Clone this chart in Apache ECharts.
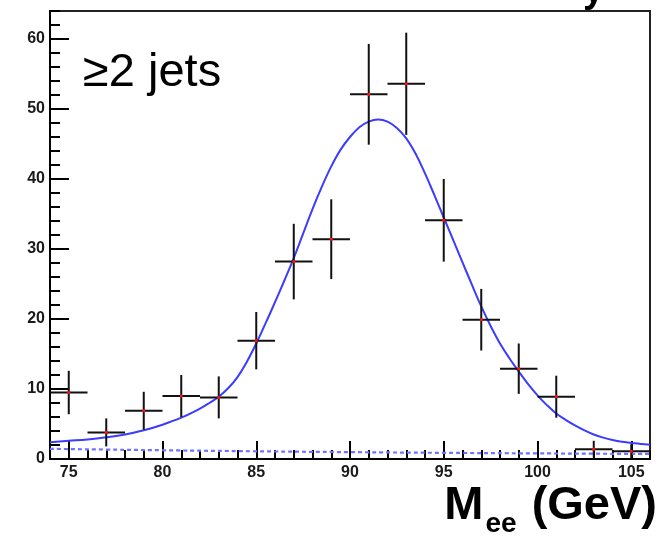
<!DOCTYPE html>
<html>
<head>
<meta charset="utf-8">
<script src="https://cdn.jsdelivr.net/npm/echarts@6/dist/echarts.min.js"></script>
<style>html,body{margin:0;padding:0;background:#fff;}#c{width:664px;height:541px;}</style>
</head>
<body>
<div id="c"></div>
<script>
// ---- data ----
var binCenters = [75, 77, 79, 81, 83, 85, 87, 89, 91, 93, 95, 97, 99, 101, 103, 105];
var counts     = [9.5, 3.8, 6.9, 9.0, 8.8, 16.9, 28.2, 31.4, 52.1, 53.6, 34.1, 19.9, 12.9, 8.9, 1.4, 1.1];
var countErr   = [3.1, 2.0, 2.7, 3.0, 3.0, 4.1, 5.4, 5.7, 7.2, 7.3, 5.9, 4.4, 3.6, 3.0, 1.2, 1.0];
var binHalfWidth = [1, 1, 1, 1, 1, 1, 1, 1, 1, 1, 1, 1, 1, 1, 1, 1];

var fitX = [74, 75, 76, 77, 78, 79, 80, 81, 82, 82.5, 83, 83.5, 84, 84.5, 85, 85.5, 86, 86.5, 87, 87.5, 88, 88.5, 89, 89.5, 90, 90.5, 91, 91.5, 92, 92.5, 93, 93.5, 94, 94.5, 95, 95.5, 96, 96.5, 97, 97.5, 98, 98.5, 99, 99.5, 100, 100.5, 101, 101.5, 102, 102.5, 103, 103.5, 104, 104.5, 105, 105.5, 106];
var fitY = [2.4, 2.6, 2.8, 3.1, 3.5, 4.1, 4.9, 5.9, 7.2, 8.0, 8.9, 10.1, 11.7, 13.9, 16.5, 19.4, 22.4, 25.5, 28.7, 32.2, 35.7, 38.9, 41.8, 44.2, 46.0, 47.4, 48.2, 48.5, 48.2, 47.3, 45.8, 43.6, 40.8, 37.7, 34.5, 31.3, 28.1, 24.9, 21.8, 19.0, 16.5, 14.4, 12.5, 10.7, 9.1, 7.7, 6.5, 5.6, 4.8, 4.1, 3.5, 3.05, 2.7, 2.45, 2.3, 2.15, 2.05];

var bgX = [74, 77, 80, 85, 90, 95, 100, 103, 106];
var bgY = [1.45, 1.35, 1.25, 1.1, 0.98, 0.88, 0.8, 0.76, 0.72];

var xMajorTicks = [75, 80, 85, 90, 95, 100, 105];
var xMinorTicks = [74, 75, 76, 77, 78, 79, 80, 81, 82, 83, 84, 85, 86, 87, 88, 89, 90, 91, 92, 93, 94, 95, 96, 97, 98, 99, 100, 101, 102, 103, 104, 105, 106];
var yMajorTicks = [0, 10, 20, 30, 40, 50, 60];
var yMinorTicks = [0, 2, 4, 6, 8, 10, 12, 14, 16, 18, 20, 22, 24, 26, 28, 30, 32, 34, 36, 38, 40, 42, 44, 46, 48, 50, 52, 54, 56, 58, 60, 62, 64];

var titleText = '\u22652 jets';

// ---- build ----
var pointData = binCenters.map(function (x, i) { return [x, counts[i], binHalfWidth[i], countErr[i]]; });
var fitData = fitX.map(function (x, i) { return [x, fitY[i]]; });
var bgData = bgX.map(function (x, i) { return [x, bgY[i]]; });

var chart = echarts.init(document.getElementById('c'), null, {renderer: 'canvas'});
var labelFont = {fontFamily: 'Liberation Sans, Arial, sans-serif', fontWeight: 'bold', fontSize: 16, color: '#1a1a1a'};

function xAxisBase(extra) {
  return Object.assign({
    type: 'value', min: 74, max: 106, gridIndex: 0, position: 'bottom',
    splitLine: {show: false}
  }, extra);
}
function yAxisBase(extra) {
  return Object.assign({
    type: 'value', min: 0, max: 64, gridIndex: 0, position: 'left',
    splitLine: {show: false}
  }, extra);
}

chart.setOption({
  animation: false,
  backgroundColor: '#fff',
  grid: {left: 50, top: 11, right: 14, bottom: 82, show: true, borderColor: '#222', borderWidth: 2, backgroundColor: 'transparent'},
  xAxis: [
    xAxisBase({
      axisLine: {show: true, onZero: false, lineStyle: {color: '#000', width: 2}},
      axisTick: {show: true, inside: true, length: 18, customValues: xMajorTicks, lineStyle: {color: '#000', width: 2}},
      axisLabel: Object.assign({customValues: xMajorTicks, margin: 6}, labelFont)
    }),
    xAxisBase({
      axisLine: {show: false},
      axisTick: {show: true, inside: true, length: 9, customValues: xMinorTicks, lineStyle: {color: '#000', width: 2}},
      axisLabel: {show: false}
    })
  ],
  yAxis: [
    yAxisBase({
      axisLine: {show: true, onZero: false, lineStyle: {color: '#000', width: 2}},
      axisTick: {show: true, inside: true, length: 19, customValues: yMajorTicks, lineStyle: {color: '#000', width: 2}},
      axisLabel: Object.assign({customValues: yMajorTicks, margin: 5}, labelFont)
    }),
    yAxisBase({
      axisLine: {show: false},
      axisTick: {show: true, inside: true, length: 10, customValues: yMinorTicks, lineStyle: {color: '#000', width: 2}},
      axisLabel: {show: false}
    })
  ],
  series: [
    {
      type: 'line', data: bgData, xAxisIndex: 0, yAxisIndex: 0, showSymbol: false, smooth: true,
      lineStyle: {color: '#7272ff', width: 2.2, type: [4, 3]}, z: 2
    },
    {
      type: 'line', data: fitData, xAxisIndex: 0, yAxisIndex: 0, showSymbol: false, smooth: 0.4,
      lineStyle: {color: '#3c3cff', width: 2}, z: 3
    },
    {
      type: 'custom', xAxisIndex: 0, yAxisIndex: 0, data: pointData, z: 4,
      renderItem: function (params, api) {
        var x = api.value(0), y = api.value(1), ex = api.value(2), ey = api.value(3);
        var c = api.coord([x, y]);
        var l = api.coord([x - ex, y]);
        var r = api.coord([x + ex, y]);
        var t = api.coord([x, y + ey]);
        var b = api.coord([x, Math.max(0, y - ey)]);
        var ls = {stroke: '#111', lineWidth: 2};
        return {
          type: 'group',
          children: [
            {type: 'line', shape: {x1: l[0], y1: l[1], x2: r[0], y2: r[1]}, style: ls},
            {type: 'line', shape: {x1: t[0], y1: t[1], x2: b[0], y2: b[1]}, style: ls},
            {type: 'circle', shape: {cx: c[0], cy: c[1], r: 1.6}, style: {fill: '#ff1010'}}
          ]
        };
      }
    }
  ],
  graphic: [
    {type: 'text', left: 83, top: 50, z: 10, style: {text: titleText, font: 'normal 47px "Liberation Sans", Arial, sans-serif', fill: '#000'}},
    {type: 'text', right: 7, top: 483, z: 10, style: {
      text: '{m|M}{s|ee}{m| (GeV)}',
      rich: {
        m: {font: 'bold 47px "Liberation Sans", Arial, sans-serif', fill: '#000', verticalAlign: 'bottom', height: 50},
        s: {font: 'bold 28px "Liberation Sans", Arial, sans-serif', fill: '#000', verticalAlign: 'bottom', padding: [0, 2, -18, 2], height: 50}
      }
    }},
    {type: 'text', left: 583, top: -27, z: 10, style: {text: 'y', font: 'bold 38px "Liberation Sans", Arial, sans-serif', fill: '#000'}}
  ]
});
</script>
</body>
</html>
